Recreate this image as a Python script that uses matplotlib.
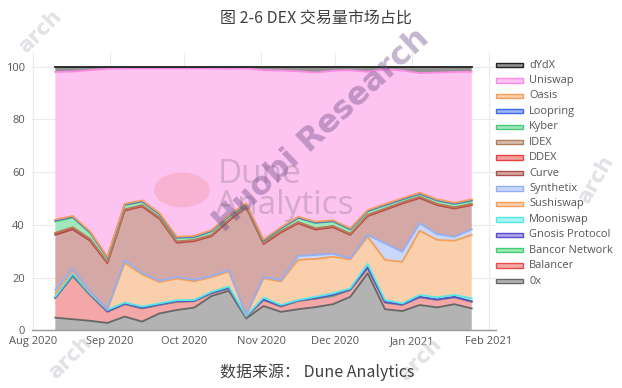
import matplotlib
matplotlib.use('Agg')
import matplotlib.pyplot as plt
import matplotlib.dates as mdates
import numpy as np
import pandas as pd
from matplotlib.patches import Rectangle, Circle

# ---------------- data (weekly market share, %) ----------------
weeks = pd.date_range('2020-08-10', periods=25, freq='7D')

zerox    = [4.8,4.2,3.6,2.8,5.2,3.3,6.4,7.7,8.6,13.0,15.0,4.5,9.2,7.0,8.0,8.8,9.9,12.7,21.6,8.0,7.3,9.6,8.7,9.9,8.3]
balancer = [7.4,16.3,9.8,4.2,4.7,5.0,3.2,3.1,2.4,1.0,0.9,0.5,2.3,2.0,3.1,3.2,3.1,2.6,1.9,2.5,2.3,2.9,2.8,2.6,2.5]
bancor   = [0.1,0.1,0.1,0.1,0.1,0.1,0.1,0.1,0.1,0.1,0.1,0.1,0.1,0.1,0.1,0.1,0.1,0.1,0.1,0.1,0.1,0.1,0.1,0.1,0.1]
gnosis   = [0.1,0.4,0.2,0.1,0.1,0.1,0.1,0.1,0.1,0.1,0.1,0.1,0.1,0.1,0.1,0.1,0.3,0.1,0.3,0.1,0.1,0.1,0.1,0.1,0.1]
mooni    = [0.4,0.5,0.3,0.5,0.4,0.5,0.4,0.4,0.3,0.4,0.5,0.2,0.7,0.4,0.2,0.5,0.6,0.4,1.3,0.8,0.4,0.7,0.8,0.7,1.1]
sushi    = [1.2,1.1,0.5,0.2,15.1,12.2,8.1,8.2,7.1,5.5,5.7,0.4,7.3,8.9,15.2,14.4,13.9,11.0,10.3,15.2,15.8,24.4,21.8,20.6,24.1]
synth    = [1.3,0.9,0.3,0.2,0.9,0.6,0.5,0.6,0.5,0.5,0.5,0.3,0.5,0.5,1.5,1.5,1.1,0.4,0.7,6.3,3.8,2.8,2.2,1.5,2.1]
curve    = [20.9,14.8,19.2,17.3,18.9,25.2,23.5,13.0,14.7,15.1,18.7,40.6,12.5,18.1,12.4,9.6,10.1,8.9,7.1,12.7,18.3,9.6,11.0,10.7,9.2]
ddex     = [0.6,0.6,0.5,0.3,0.3,0.3,0.3,0.3,0.3,0.3,0.3,0.3,0.3,0.3,0.3,0.3,0.3,0.3,0.3,0.3,0.3,0.3,0.3,0.3,0.3]
idex     = [0.2,0.2,0.2,0.2,0.2,0.2,0.2,0.2,0.2,0.2,0.2,0.2,0.2,0.2,0.2,0.2,0.2,0.2,0.2,0.2,0.2,0.2,0.2,0.2,0.2]
kyber    = [4.3,3.7,2.3,1.5,1.6,1.3,1.2,1.3,1.0,1.3,1.2,0.5,0.7,1.0,1.5,2.0,1.7,1.5,1.3,1.2,1.0,1.0,1.2,1.2,1.0]
loopring = [0.4,0.3,0.2,0.2,0.2,0.2,0.2,0.2,0.2,0.2,0.2,0.2,0.2,0.2,0.2,0.2,0.2,0.2,0.2,0.2,0.2,0.2,0.2,0.2,0.4]
oasis    = [0.3,0.3,0.3,0.3,0.3,0.3,0.3,0.3,0.3,0.3,0.3,0.3,0.3,0.3,0.3,0.3,0.3,0.3,0.3,0.3,0.3,0.3,0.3,0.3,0.3]
uniswap  = [56.0,54.8,61.2,71.3,51.4,50.1,54.9,63.9,63.6,61.4,55.5,51.2,64.3,59.5,55.2,56.6,56.7,60.0,52.5,51.1,48.5,45.4,48.1,49.6,48.4]
dydx     = [2.0,1.8,1.3,0.8,0.6,0.6,0.6,0.6,0.6,0.6,0.8,0.6,1.3,1.4,1.7,2.2,1.5,1.3,1.9,1.0,1.4,2.4,2.2,2.0,1.9]

# stacking order bottom -> top
names = ['0x', 'Balancer', 'Bancor Network', 'Gnosis Protocol', 'Mooniswap', 'Sushiswap',
         'Synthetix', 'Curve', 'DDEX', 'IDEX', 'Kyber', 'Loopring', 'Oasis', 'Uniswap', 'dYdX']
series = [zerox, balancer, bancor, gnosis, mooni, sushi, synth, curve, ddex, idex,
          kyber, loopring, oasis, uniswap, dydx]
line_colors = ['#676767', '#e84e4c', '#3fcf72', '#5a4ed0', '#55e8e6', '#f59f58',
               '#93aff6', '#a9504a', '#e8403f', '#b07f60', '#45cc78', '#3d6ae8',
               '#f59e58', '#fb88e2', '#222222']

def blend(c, a=0.5):
    r, g, b = matplotlib.colors.to_rgb(c)
    return (1 - a + a * r, 1 - a + a * g, 1 - a + a * b)

fill_colors = [blend(c) for c in line_colors]

# ---------------- figure ----------------
W, H = 622, 388
fig = plt.figure(figsize=(W / 100, H / 100), dpi=100)
fig.patch.set_facecolor('white')

def fx(px):
    return px / W

def fy(py):
    return 1 - py / H

ax = fig.add_axes([fx(32), fy(330.3), fx(496) - fx(32), fy(52.8) - fy(330.3)])
ax.set_facecolor('white')

vals = np.array(series, dtype=float)
cum = np.cumsum(vals, axis=0)
prev = np.zeros(vals.shape[1])
for i in range(len(names)):
    ax.fill_between(weeks, prev, cum[i], facecolor=fill_colors[i], edgecolor='none',
                    linewidth=0, zorder=2)
    prev = cum[i]
for i in range(len(names)):
    ax.plot(weeks, cum[i], color=line_colors[i], lw=1.3, zorder=3 + i * 0.01,
            solid_joinstyle='round')

ax.set_xlim(pd.Timestamp('2020-08-01') - pd.Timedelta(hours=10),
            pd.Timestamp('2021-02-01') + pd.Timedelta(hours=67))
ax.set_ylim(0, 105.3)
ax.set_yticks([0, 20, 40, 60, 80, 100])
ax.xaxis.set_major_locator(mdates.MonthLocator())
ax.xaxis.set_major_formatter(mdates.DateFormatter('%b %Y'))

for lbl in ax.get_xticklabels() + ax.get_yticklabels():
    lbl.set_fontfamily('Open Sans')
    lbl.set_fontsize(8)
    lbl.set_color('#555555')
ax.tick_params(axis='both', length=0)
ax.tick_params(axis='x', pad=4)
ax.tick_params(axis='y', pad=5)
ax.grid(True, color='#ebebeb', lw=0.8, zorder=0)
ax.set_axisbelow(True)
for s in ['top', 'right', 'left']:
    ax.spines[s].set_visible(False)
ax.spines['bottom'].set_color('#999999')
ax.spines['bottom'].set_linewidth(1.0)
ax.spines['bottom'].set_zorder(5)

# ---------------- legend (plotly style, reversed order) ----------------
for k, i in enumerate(range(len(names) - 1, -1, -1)):
    yc = 65 + 15.43 * k
    fig.add_artist(Rectangle((fx(496), fy(yc + 2.2)), fx(523) - fx(496), 4.4 / H,
                             transform=fig.transFigure, facecolor=fill_colors[i],
                             edgecolor=line_colors[i], lw=1.0))
    fig.text(fx(529), fy(yc), names[i], fontsize=7.9, family='Open Sans',
             color='#555555', va='center', ha='left')

# ---------------- title & source ----------------
cjk = ['Noto Sans CJK SC', 'DejaVu Sans']
fig.text(fx(316), fy(18), '图 2-6 DEX 交易量市场占比', family=cjk, fontsize=11.5,
         color='#404040', ha='center', va='center', fontweight='light')
fig.text(fx(317), fy(372), '数据来源： Dune Analytics', family=cjk, fontsize=11.5,
         color='#404040', ha='center', va='center', fontweight='light')

# ---------------- watermarks ----------------
fig.add_artist(Circle((fx(182), fy(190)), 28 / W, transform=fig.transFigure,
                      facecolor='#f4a0b0', alpha=0.45, edgecolor='none', zorder=10))
fig.text(fx(218), fy(175), 'Dune', family='Open Sans', fontsize=24, color='#8a7a85',
         alpha=0.35, ha='left', va='center', zorder=11)
fig.text(fx(216), fy(205), 'Analytics', family='Open Sans', fontsize=24, color='#8a7a85',
         alpha=0.35, ha='left', va='center', zorder=11)
fig.text(fx(322), fy(130), 'Huobi Research', family='DejaVu Sans', fontsize=23,
         fontweight='bold', color='#6a4a86', alpha=0.4, rotation=43,
         ha='center', va='center', zorder=12)
for (px, py, rot) in [(40, 32, 45), (596, 180, 60), (70, 358, 45), (420, 360, 45)]:
    fig.text(fx(px), fy(py), 'arch', family='DejaVu Sans', fontsize=15, fontweight='bold',
             color='#c8c8d2', alpha=0.55, rotation=rot, ha='center', va='center', zorder=1)

fig.savefig('out.png', dpi=100, facecolor='white')
